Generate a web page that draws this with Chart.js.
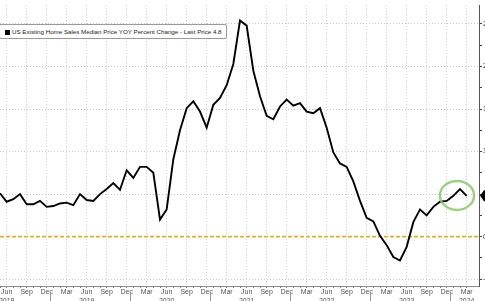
<!DOCTYPE html>
<html lang="en">
<head>
  <meta charset="UTF-8">
  <title>US Existing Home Sales Median Price YOY</title>
  <script src="https://cdn.jsdelivr.net/npm/chart.js"></script>
  <style>
    body {
      margin: 0;
      width: 485px;
      height: 301px;
      overflow: hidden;
      background: #fff;
      font-family: "Liberation Sans", Arial, sans-serif;
    }
    .chart-box {
      position: absolute;
      left: 0;
      top: 0;
      width: 505px;
      height: 301px;
    }
    .legend {
      position: absolute;
      left: -1px;
      top: 24px;
      height: 13px;
      line-height: 13px;
      padding: 0 4px 0 4px;
      border: 1px solid #9a9a9a;
      border-radius: 2px;
      background: #fff;
      font-size: 6.2px;
      color: #222;
      white-space: nowrap;
    }
    .legend .sq {
      display: inline-block;
      width: 5px;
      height: 5px;
      background: #000;
      margin: 0 2px 0 1px;
      vertical-align: -0.5px;
    }
  </style>
</head>
<body>
  <div class="chart-box"><canvas id="yoyChart" width="505" height="301"></canvas></div>
  <div class="legend"><span class="sq"></span>US Existing Home Sales Median Price YOY Percent Change - Last Price 4.8</div>

  <script>
    // Data (monthly)
    const months = [
      "May 2018", "Jun 2018", "Jul 2018", "Aug 2018", "Sep 2018", "Oct 2018", "Nov 2018", "Dec 2018",
      "Jan 2019", "Feb 2019", "Mar 2019", "Apr 2019", "May 2019", "Jun 2019", "Jul 2019", "Aug 2019",
      "Sep 2019", "Oct 2019", "Nov 2019", "Dec 2019",
      "Jan 2020", "Feb 2020", "Mar 2020", "Apr 2020", "May 2020", "Jun 2020", "Jul 2020", "Aug 2020",
      "Sep 2020", "Oct 2020", "Nov 2020", "Dec 2020",
      "Jan 2021", "Feb 2021", "Mar 2021", "Apr 2021", "May 2021", "Jun 2021", "Jul 2021", "Aug 2021",
      "Sep 2021", "Oct 2021", "Nov 2021", "Dec 2021",
      "Jan 2022", "Feb 2022", "Mar 2022", "Apr 2022", "May 2022", "Jun 2022", "Jul 2022", "Aug 2022",
      "Sep 2022", "Oct 2022", "Nov 2022", "Dec 2022",
      "Jan 2023", "Feb 2023", "Mar 2023", "Apr 2023", "May 2023", "Jun 2023", "Jul 2023", "Aug 2023",
      "Sep 2023", "Oct 2023", "Nov 2023", "Dec 2023",
      "Jan 2024", "Feb 2024", "Mar 2024"
    ];
    const yoyChange = [
      5.1, 4.1, 4.4, 5.0, 3.8, 3.8, 4.2, 3.5,
      3.6, 3.9, 4.0, 3.7, 5.0, 4.3, 4.2, 5.0, 5.6, 6.3, 5.5, 7.8,
      6.9, 8.2, 8.2, 7.5, 2.0, 3.2, 9.1, 12.5, 15.1, 15.9, 14.7, 12.8,
      15.5, 16.3, 17.8, 20.3, 25.4, 24.8, 19.5, 16.5, 14.2, 13.8, 15.3, 16.1,
      15.4, 15.7, 14.7, 14.5, 15.1, 12.8, 9.9, 8.6, 8.2, 6.5, 4.2, 2.2,
      1.8, 0.1, -1.0, -2.4, -2.8, -1.2, 1.7, 3.2, 2.5, 3.5, 4.1, 4.2,
      4.8, 5.6, 4.8
    ];
    const yTicks = [-5, -2.5, 0, 2.5, 5, 7.5, 10, 12.5, 15, 17.5, 20, 22.5, 25];
    const quarterMonths = ["Mar", "Jun", "Sep", "Dec"];
    const lastPrice = 4.8;

    const isQuarter = (i) => months[i] && quarterMonths.includes(months[i].split(" ")[0]);

    // Helpers / plugins
    const zeroLine = {
      id: "zeroLine",
      beforeDatasetsDraw(chart) {
        const { ctx, chartArea, scales } = chart;
        const y = scales.y.getPixelForValue(0);
        ctx.save();
        ctx.strokeStyle = "#d9b52c";
        ctx.lineWidth = 1.6;
        ctx.setLineDash([4, 2]);
        ctx.beginPath();
        ctx.moveTo(chartArea.left, y);
        ctx.lineTo(chartArea.right, y);
        ctx.stroke();
        ctx.restore();
      },
    };

    const highlight = {
      id: "highlight",
      afterDatasetsDraw(chart) {
        const { ctx, scales } = chart;
        const n = yoyChange.length;
        const recent = yoyChange.slice(n - 4);
        const cx = scales.x.getPixelForValue(n - 2.45);
        const cy = scales.y.getPixelForValue(recent.reduce((a, b) => a + b, 0) / recent.length);
        ctx.save();
        ctx.strokeStyle = "rgba(140, 200, 110, 0.85)";
        ctx.lineWidth = 2.5;
        ctx.beginPath();
        ctx.ellipse(cx, cy, 17, 14.5, 0, 0, Math.PI * 2);
        ctx.stroke();
        ctx.restore();
      },
    };

    const lastTag = {
      id: "lastTag",
      afterDraw(chart) {
        const { ctx, chartArea, scales } = chart;
        const y = scales.y.getPixelForValue(lastPrice);
        const x = chartArea.right + 1;
        ctx.save();
        ctx.fillStyle = "#000";
        ctx.beginPath();
        ctx.moveTo(x, y);
        ctx.lineTo(x + 4, y - 5.5);
        ctx.lineTo(x + 22, y - 5.5);
        ctx.lineTo(x + 22, y + 5.5);
        ctx.lineTo(x + 4, y + 5.5);
        ctx.closePath();
        ctx.fill();
        ctx.fillStyle = "#fff";
        ctx.font = "bold 7px 'Liberation Sans', Arial, sans-serif";
        ctx.textBaseline = "middle";
        ctx.fillText(String(lastPrice), x + 6, y);
        // year separators under the axis
        ctx.strokeStyle = "#9a9a9a";
        ctx.lineWidth = 1;
        months.forEach((m, i) => {
          if (m.startsWith("Dec")) {
            const sx = Math.round(scales.x.getPixelForValue(i + 0.5)) + 0.5;
            ctx.beginPath();
            ctx.moveTo(sx, chartArea.bottom + 6);
            ctx.lineTo(sx, chartArea.bottom + 16);
            ctx.stroke();
          }
        });
        ctx.restore();
      },
    };

    const ctx = document.getElementById("yoyChart").getContext("2d");
    const chart = new Chart(ctx, {
      type: "line",
      data: {
        datasets: [
          {
            label: "US Existing Home Sales Median Price YOY Percent Change",
            data: yoyChange.map((v, i) => ({ x: i, y: v })),
            borderColor: "#000",
            borderWidth: 1.9,
            pointRadius: 0,
            tension: 0,
            fill: false,
          },
        ],
      },
      options: {
        responsive: false,
        animation: false,
        events: [],
        layout: { padding: 0 },
        plugins: {
          legend: { display: false },
          tooltip: { enabled: false },
        },
        scales: {
          x: {
            type: "linear",
            min: 0,
            max: 71.85,
            afterBuildTicks: (scale) => {
              scale.ticks = months.map((m, i) => ({ value: i }));
            },
            afterFit: (scale) => {
              scale.height = 15;
            },
            ticks: {
              autoSkip: false,
              maxRotation: 0,
              padding: 0,
              color: "#555",
              font: { size: 7, family: "'Liberation Sans', Arial, sans-serif" },
              callback: (value) => {
                const i = Math.round(value);
                if (!isQuarter(i)) return "";
                const [mon, yr] = months[i].split(" ");
                if (mon === "Jun" || i === months.length - 1) return [mon, yr];
                return mon;
              },
            },
            grid: {
              color: (c) => (c.tick && isQuarter(c.tick.value) ? "#c9c9c9" : "rgba(0,0,0,0)"),
              tickColor: "#8a8a8a",
              tickLength: 2,
              lineWidth: 1,
            },
            border: { display: true, color: "#8a8a8a", dash: [1, 2] },
          },
          y: {
            position: "right",
            min: -5.8,
            max: 27.2,
            afterBuildTicks: (scale) => {
              scale.ticks = yTicks.map((v) => ({ value: v }));
            },
            afterFit: (scale) => {
              scale.width = 26;
            },
            ticks: {
              padding: 1,
              color: "#333",
              font: { size: 7, family: "'Liberation Sans', Arial, sans-serif" },
              callback: (value) => (value % 5 === 0 ? String(value) : ""),
            },
            grid: {
              color: (c) => (c.tick && c.tick.value % 5 === 0 ? "#c9c9c9" : "rgba(0,0,0,0)"),
              tickColor: "#444",
              tickLength: 3,
            },
            border: { display: true, color: "#555", dash: [1, 2] },
          },
        },
      },
      plugins: [zeroLine, highlight, lastTag],
    });
  </script>
</body>
</html>
